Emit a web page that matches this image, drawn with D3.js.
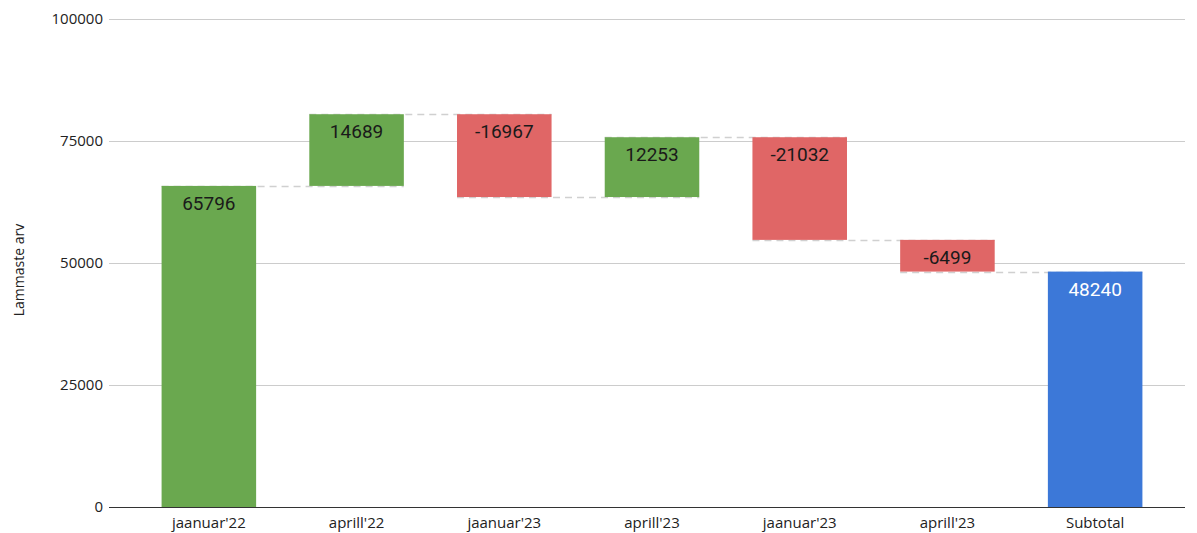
<!DOCTYPE html>
<html>
<head>
<meta charset="utf-8">
<script src="https://cdn.jsdelivr.net/npm/d3@7"></script>
<style>
  body { margin: 0; background: #fff; }
  svg { display: block; }
</style>
</head>
<body>
<script>
var categories = ["jaanuar'22", "aprill'22", "jaanuar'23", "aprill'23", "jaanuar'23", "aprill'23", "Subtotal"];
var changes = [65796, 14689, -16967, 12253, -21032, -6499];
var yTicks = [0, 25000, 50000, 75000, 100000];

var width = 1197, height = 533;
var gridLeft = 109, gridRight = 1185;
var plotTop = 19, plotBottom = 507;

var svg = d3.select("body").append("svg").attr("width", width).attr("height", height);

// build waterfall steps
var steps = [];
var run = 0;
changes.forEach(function(v, i){
  steps.push({cat: i, start: run, end: run + v, value: v, type: v >= 0 ? "up" : "down"});
  run += v;
});
steps.push({cat: categories.length - 1, start: 0, end: run, value: run, type: "total"});

var x = d3.scaleBand().domain(d3.range(categories.length)).range([135, 1169]).paddingInner(0.36).paddingOuter(0.18);
var y = d3.scaleLinear().domain([0, 100000]).range([plotBottom, plotTop]);

var colors = {up: "#6aa84f", down: "#e06666", total: "#3c78d8"};

// gridlines
svg.append("g").selectAll("line").data(yTicks).enter().append("line")
  .attr("x1", gridLeft).attr("x2", gridRight)
  .attr("y1", function(d){ return Math.round(y(d)) + 0.5; }).attr("y2", function(d){ return Math.round(y(d)) + 0.5; })
  .attr("stroke", function(d){ return d === 0 ? "#333" : "#ccc"; })
  .attr("stroke-width", 1);

// y tick labels
svg.append("g").selectAll("text").data(yTicks).enter().append("text")
  .attr("x", gridLeft - 6).attr("y", function(d){ return y(d); })
  .attr("dy", "0.35em").attr("text-anchor", "end")
  .attr("font-family", "Open Sans, sans-serif").attr("font-size", 15).attr("fill", "#222")
  .text(function(d){ return d; });

// y title
svg.append("text")
  .attr("transform", "translate(24,270) rotate(-90)")
  .attr("text-anchor", "middle")
  .attr("font-family", "Open Sans, sans-serif").attr("font-size", 14).attr("fill", "#222")
  .text("Lammaste arv");

// connectors
var conn = [];
for (var i = 0; i < steps.length - 1; i++) conn.push({from: i, level: steps[i].end});
svg.append("g").selectAll("line").data(conn).enter().append("line")
  .attr("x1", function(d){ return x(d.from); })
  .attr("x2", function(d){ return x(d.from + 1) + x.bandwidth(); })
  .attr("y1", function(d){ return Math.round(y(d.level)) + 0.5; })
  .attr("y2", function(d){ return Math.round(y(d.level)) + 0.5; })
  .attr("stroke", "#d0d0d0").attr("stroke-width", 1.5).attr("stroke-dasharray", "7,5");

// bars
svg.append("g").selectAll("rect").data(steps).enter().append("rect")
  .attr("x", function(d){ return x(d.cat); })
  .attr("width", x.bandwidth())
  .attr("y", function(d){ return y(Math.max(d.start, d.end)); })
  .attr("height", function(d){ return Math.abs(y(d.start) - y(d.end)); })
  .attr("fill", function(d){ return colors[d.type]; });

// value labels
svg.append("g").selectAll("text").data(steps).enter().append("text")
  .attr("x", function(d){ return x(d.cat) + x.bandwidth() / 2; })
  .attr("y", function(d){ return y(Math.max(d.start, d.end)) + 24; })
  .attr("text-anchor", "middle")
  .attr("font-family", "Roboto, sans-serif").attr("font-size", 19)
  .attr("fill", function(d){ return d.type === "total" ? "#fff" : "#1a1a1a"; })
  .text(function(d){ return d.value; });

// x labels
svg.append("g").selectAll("text").data(categories).enter().append("text")
  .attr("x", function(d, i){ return x(i) + x.bandwidth() / 2; })
  .attr("y", plotBottom + 21)
  .attr("text-anchor", "middle")
  .attr("font-family", "Open Sans, sans-serif").attr("font-size", 15).attr("fill", "#222")
  .text(function(d){ return d; });
</script>
</body>
</html>
